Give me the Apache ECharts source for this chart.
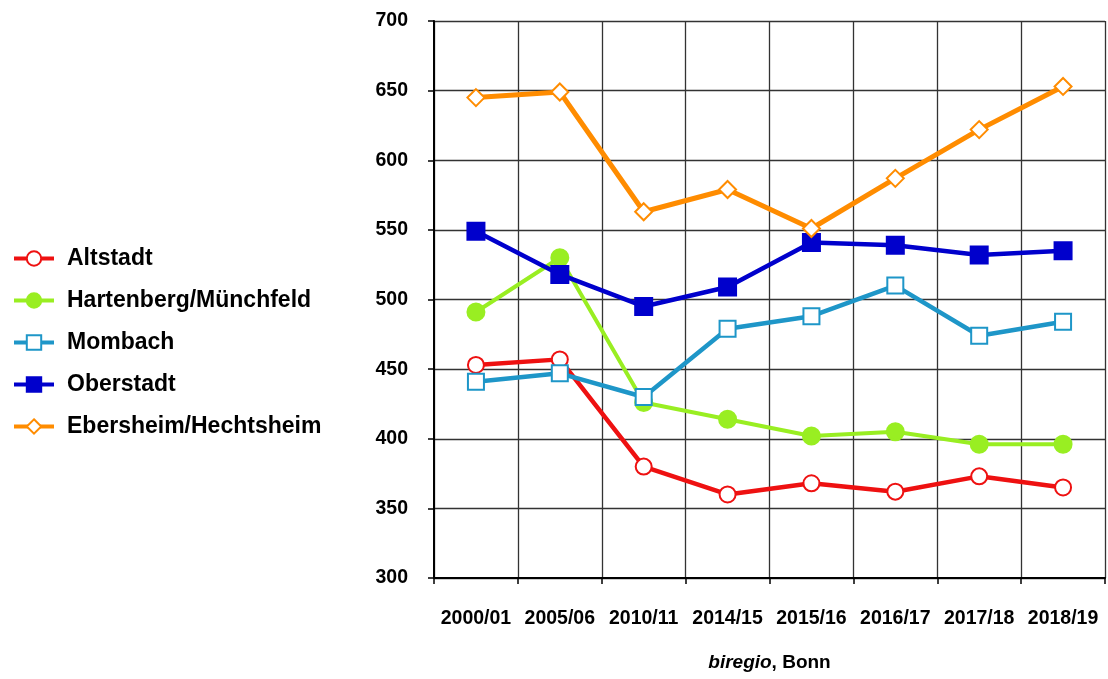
<!DOCTYPE html>
<html>
<head>
<meta charset="utf-8">
<script src="https://cdn.jsdelivr.net/npm/echarts@6/dist/echarts.min.js"></script>
<style>
  html, body { margin: 0; padding: 0; background: #fff; }
  #chart { width: 1108px; height: 679px; }
</style>
</head>
<body>
<div id="chart"></div>
<script>
// Schuljahre
const years = ["2000/01", "2005/06", "2010/11", "2014/15", "2015/16", "2016/17", "2017/18", "2018/19"];

const altstadt = [453, 457, 380, 360, 368, 362, 373, 365];
const hartenberg = [491, 530, 426, 414, 402, 405, 396, 396];
const mombach = [441, 447, 430, 479, 488, 510, 474, 484];
const oberstadt = [549, 518, 495, 509, 541, 539, 532, 535];
const ebersheim = [645, 649, 563, 579, 551, 587, 622, 653];

const yTicks = [300, 350, 400, 450, 500, 550, 600, 650, 700];

const font = "Liberation Sans, Arial, sans-serif";

function line(name, data, color, symbol, size, width) {
  return {
    name: name,
    type: "line",
    data: data,
    symbol: symbol,
    symbolSize: size,
    lineStyle: { color: color, width: width },
    itemStyle: { color: color, borderColor: color, borderWidth: 2 },
    emphasis: { disabled: true },
  };
}

const chart = echarts.init(document.getElementById("chart"));
chart.setOption({
  animation: false,
  textStyle: { fontFamily: font },
  legend: {
    orient: "vertical",
    left: 7,
    top: 242,
    itemWidth: 40,
    itemHeight: 18,
    itemGap: 19,
    lineStyle: { width: 4 },
    textStyle: {
      fontSize: 23,
      fontWeight: "bold",
      color: "#000",
      lineHeight: 20,
      padding: [0, 0, 0, 8],
    },
    data: ["Altstadt", "Hartenberg/Münchfeld", "Mombach", "Oberstadt", "Ebersheim/Hechtsheim"],
  },
  grid: { left: 434, top: 21, right: 3, bottom: 101, containLabel: false },
  xAxis: {
    type: "category",
    data: years,
    boundaryGap: true,
    axisLine: { lineStyle: { color: "#000", width: 2 } },
    axisTick: { show: true, interval: 0, length: 6, lineStyle: { color: "#000", width: 1.5 } },
    splitLine: { show: true, interval: 0, lineStyle: { color: "#333", width: 1.3 } },
    axisLabel: { color: "#000", fontSize: 19.5, fontWeight: "bold", margin: 31, interval: 0 },
    name: "{i|biregio}{n|, Bonn}",
    nameLocation: "middle",
    nameGap: 75,
    nameTextStyle: {
      rich: {
        i: { fontSize: 19, fontWeight: "bold", fontStyle: "italic", color: "#000" },
        n: { fontSize: 19, fontWeight: "bold", color: "#000" },
      },
    },
  },
  yAxis: {
    type: "value",
    min: yTicks[0],
    max: yTicks[yTicks.length - 1],
    interval: 50,
    axisLine: { show: true, lineStyle: { color: "#000", width: 2 } },
    axisTick: { show: true, length: 6, lineStyle: { color: "#000", width: 1.5 } },
    splitLine: { show: true, lineStyle: { color: "#333", width: 1.3 } },
    axisLabel: { color: "#000", fontSize: 19.5, fontWeight: "bold", margin: 26 },
  },
  series: [
    line("Altstadt", altstadt, "#ee1111", "emptyCircle", 16, 4.5),
    line("Hartenberg/Münchfeld", hartenberg, "#99ee22", "circle", 17, 4),
    line("Mombach", mombach, "#1e96c8", "emptyRect", 16, 4.5),
    line("Oberstadt", oberstadt, "#0000cc", "rect", 17, 4.5),
    line("Ebersheim/Hechtsheim", ebersheim, "#ff8c00", "emptyDiamond", 17, 5),
  ],
});
</script>
</body>
</html>
